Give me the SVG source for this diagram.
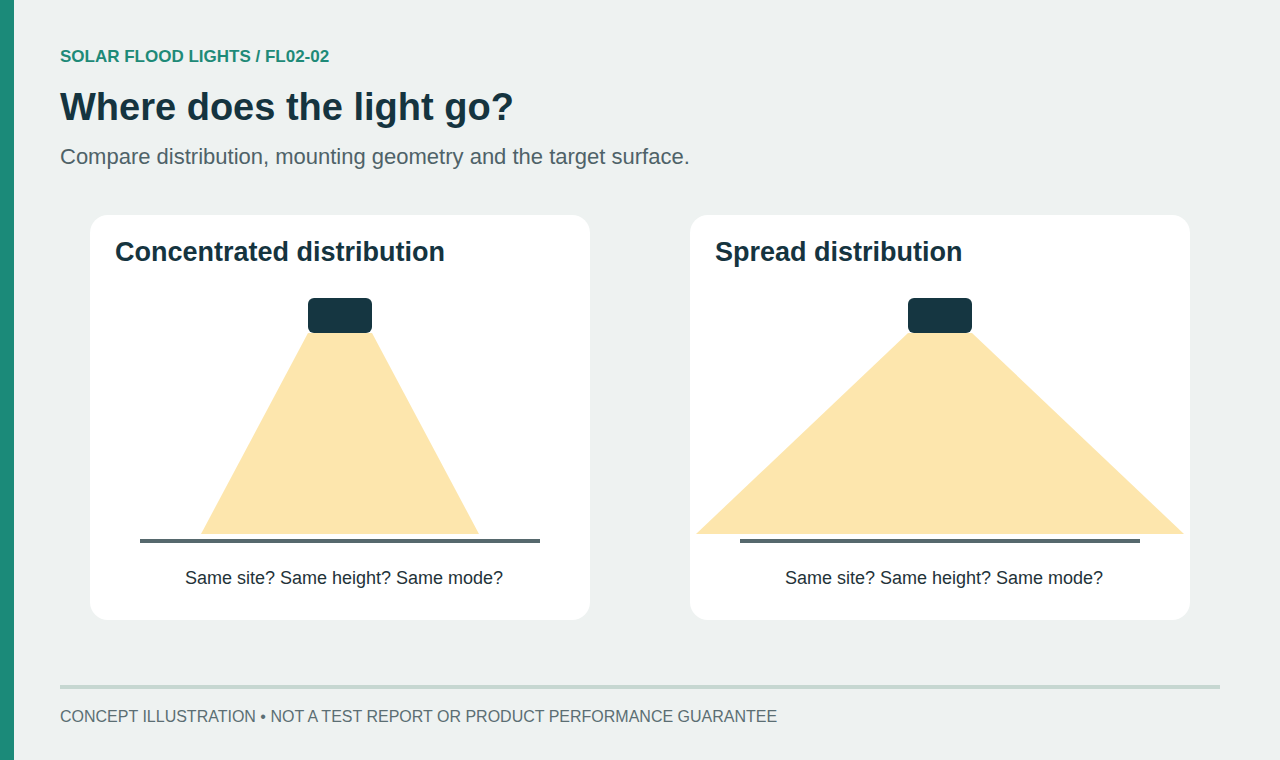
<svg xmlns="http://www.w3.org/2000/svg" width="1280" height="760" viewBox="0 0 1280 760">
<style>
.card{fill:#ffffff}
.lamp{fill:#153641}
.beam{fill:#fde6ad}
.ground{stroke:#56686d;stroke-width:4}
.ct{font-family:"Liberation Sans",Arial,sans-serif;font-weight:bold;font-size:27px;fill:#15343f}
.cap{font-family:"Liberation Sans",Arial,sans-serif;font-size:18px;fill:#1f3339;text-anchor:middle}
</style>
<rect width="1280" height="760" fill="#eef2f1"/>
<rect x="0" y="0" width="14" height="760" fill="#1b8a79"/>
<text x="60" y="62" font-family="Liberation Sans,Arial,sans-serif" font-weight="bold" font-size="17" fill="#1e8a78">SOLAR FLOOD LIGHTS / FL02-02</text>
<text x="60" y="120" font-family="Liberation Sans,Arial,sans-serif" font-weight="bold" font-size="38" fill="#15343f">Where does the light go?</text>
<text x="60" y="164" font-family="Liberation Sans,Arial,sans-serif" font-size="22" fill="#4e6268">Compare distribution, mounting geometry and the target surface.</text>
<g id="concentrated">
<rect class="card" x="90" y="215" width="500" height="405" rx="18"/>
<text class="ct" x="115" y="261">Concentrated distribution</text>
<polygon class="beam" points="308,333 372,333 479,534 201,534"/>
<rect class="lamp" x="308" y="298" width="64" height="35" rx="6"/>
<line class="ground" x1="140" y1="541" x2="540" y2="541"/>
<text class="cap" x="344" y="584">Same site? Same height? Same mode?</text>
</g>
<g id="spread">
<rect class="card" x="690" y="215" width="500" height="405" rx="18"/>
<text class="ct" x="715" y="261">Spread distribution</text>
<polygon class="beam" points="908,333 972,333 1184,534 696,534"/>
<rect class="lamp" x="908" y="298" width="64" height="35" rx="6"/>
<line class="ground" x1="740" y1="541" x2="1140" y2="541"/>
<text class="cap" x="944" y="584">Same site? Same height? Same mode?</text>
</g>
<g id="connectors"></g>
<line x1="60" y1="687" x2="1220" y2="687" stroke="#c6d7d1" stroke-width="4"/>
<text x="60" y="722" font-family="Liberation Sans,Arial,sans-serif" font-size="16" fill="#5b6e73">CONCEPT ILLUSTRATION • NOT A TEST REPORT OR PRODUCT PERFORMANCE GUARANTEE</text>
</svg>
